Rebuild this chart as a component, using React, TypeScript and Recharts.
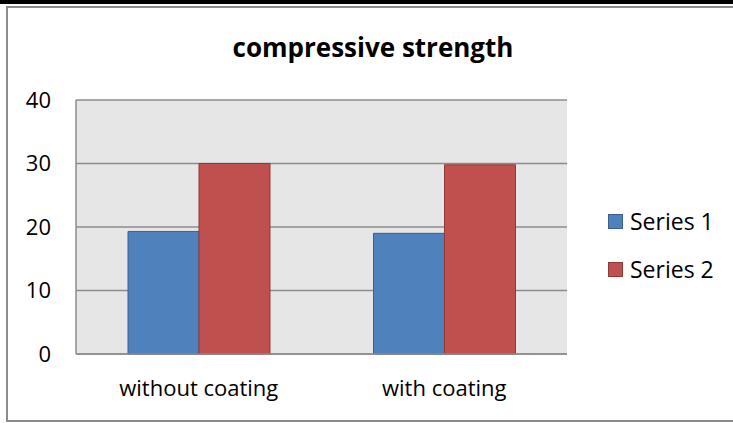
import React from 'react';
import { BarChart, Bar, XAxis, YAxis, CartesianGrid, Legend } from 'recharts';

const categories = ['without coating', 'with coating'];
const series1 = [19.3, 19.0];
const series2 = [30.0, 29.8];
const yTicks = [0, 10, 20, 30, 40];
const seriesNames = ['Series 1', 'Series 2'];
const title = 'compressive strength';

const data = categories.map((c, i) => ({ name: c, s1: series1[i], s2: series2[i] }));

const FONT = '"Open Sans", Lato, Calibri, sans-serif';
const GRID = '#8c8c8c';

const LegendContent = (props: any) => {
  const payload = props.payload || [];
  return (
    <div style={{ fontFamily: FONT }}>
      {payload.map((p: any, i: number) => (
        <div key={i} style={{ height: 48.5, display: 'flex', alignItems: 'center' }}>
          <div
            style={{
              width: 15,
              height: 15,
              boxSizing: 'border-box',
              background: p.color,
              border: `1px solid ${i === 0 ? '#3a5f8c' : '#8f3a37'}`,
              marginRight: 7,
            }}
          />
          <span style={{ fontSize: 23, color: '#000', lineHeight: '23px' }}>{p.value}</span>
        </div>
      ))}
    </div>
  );
};

export default function App() {
  return (
    <div
      style={{
        position: 'absolute',
        left: 0,
        top: 0,
        width: 733,
        height: 423,
        background: '#fff',
        overflow: 'hidden',
        fontFamily: FONT,
      }}
    >
      <div style={{ position: 'absolute', left: 0, top: 0, width: 733, height: 4, background: '#000' }} />
      <div
        style={{
          position: 'absolute',
          left: 6,
          top: 6,
          width: 760,
          height: 416,
          border: '2px solid #8c8c8c',
          boxSizing: 'border-box',
        }}
      />
      <svg style={{ position: 'absolute', left: 0, top: 0 }} width={733} height={423}>
        <text x={373} y={57} textAnchor="middle" fontFamily={FONT} fontWeight="bold" fontSize={26} fill="#000">
          {title}
        </text>
      </svg>
      <div style={{ position: 'absolute', left: 0, top: 0 }}>
        <BarChart
          width={733}
          height={423}
          data={data}
          margin={{ top: 100, right: 166, bottom: 0, left: 0 }}
          barGap={0}
        >
          <CartesianGrid vertical={false} fill="#e6e6e6" stroke={GRID} strokeWidth={1.5} />
          <XAxis
            dataKey="name"
            height={69}
            tickSize={0}
            tickMargin={26}
            axisLine={{ stroke: GRID, strokeWidth: 1.5 }}
            tickLine={false}
            tick={{ fill: '#000', fontSize: 22, fontFamily: FONT }}
          />
          <YAxis
            width={76}
            domain={[0, 40]}
            ticks={yTicks}
            tickSize={0}
            tickMargin={25}
            axisLine={{ stroke: GRID, strokeWidth: 1.5 }}
            tickLine={false}
            tick={{ fill: '#000', fontSize: 22, fontFamily: FONT }}
            interval={0}
          />
          <Legend
            layout="horizontal"
            verticalAlign="middle"
            align="center"
            content={<LegendContent />}
            wrapperStyle={{ left: 608, top: 197, width: 125, height: 97 }}
          />
          <Bar dataKey="s1" name={seriesNames[0]} fill="#4f81bd" stroke="#3a5f8c" strokeWidth={1} barSize={71} isAnimationActive={false} />
          <Bar dataKey="s2" name={seriesNames[1]} fill="#c0504d" stroke="#8f3a37" strokeWidth={1} barSize={71} isAnimationActive={false} />
        </BarChart>
      </div>
    </div>
  );
}
